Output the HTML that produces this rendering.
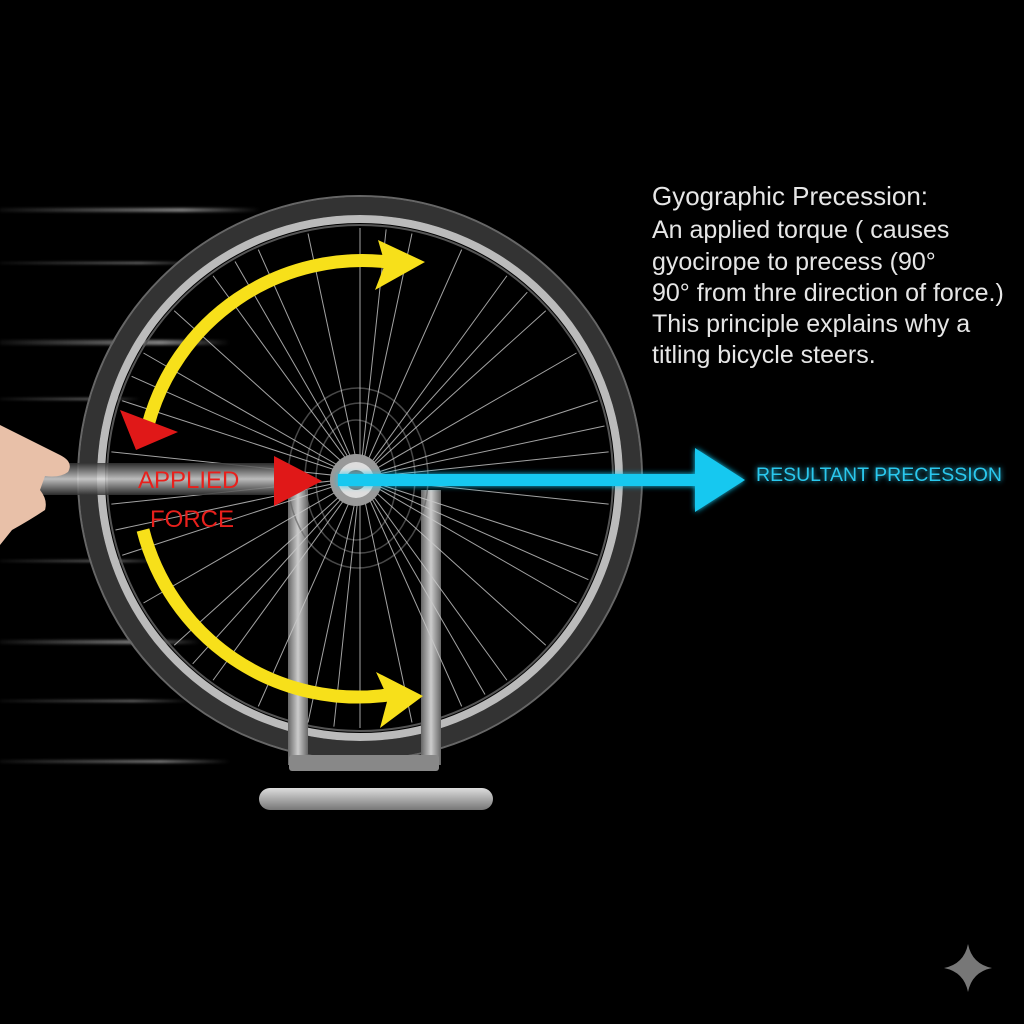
<!DOCTYPE html>
<html><head><meta charset="utf-8"><style>
html,body{margin:0;padding:0;background:#000;}
body{width:1024px;height:1024px;position:relative;overflow:hidden;font-family:"Liberation Sans",sans-serif;}
</style></head><body>
<svg width="1024" height="1024" viewBox="0 0 1024 1024" style="position:absolute;left:0;top:0">
<defs>
<linearGradient id="blur" x1="0" x2="1"><stop offset="0" stop-color="#fff" stop-opacity="0.05"/><stop offset="0.7" stop-color="#fff" stop-opacity="0.5"/><stop offset="1" stop-color="#fff" stop-opacity="0"/></linearGradient>
<linearGradient id="rod" x1="0" y1="0" x2="0" y2="1"><stop offset="0" stop-color="#333"/><stop offset="0.5" stop-color="#ddd"/><stop offset="1" stop-color="#333"/></linearGradient>
<linearGradient id="post" x1="0" x2="1"><stop offset="0" stop-color="#666"/><stop offset="0.5" stop-color="#ccc"/><stop offset="1" stop-color="#666"/></linearGradient>
<linearGradient id="base" x1="0" y1="0" x2="0" y2="1"><stop offset="0" stop-color="#ddd"/><stop offset="1" stop-color="#777"/></linearGradient>
<filter id="glow"><feGaussianBlur stdDeviation="3" result="b"/><feMerge><feMergeNode in="b"/><feMergeNode in="SourceGraphic"/></feMerge></filter>
<filter id="soft"><feGaussianBlur stdDeviation="1.2"/></filter>
</defs>
<g filter="url(#soft)">
<rect x="0" y="208" width="260" height="4" fill="url(#blur)"/>
<rect x="0" y="262" width="200" height="2" fill="url(#blur)"/>
<rect x="0" y="340" width="230" height="5" fill="url(#blur)"/>
<rect x="0" y="398" width="140" height="2" fill="url(#blur)"/>
<rect x="0" y="560" width="160" height="2" fill="url(#blur)"/>
<rect x="0" y="640" width="200" height="4" fill="url(#blur)"/>
<rect x="0" y="700" width="190" height="2" fill="url(#blur)"/>
<rect x="0" y="760" width="230" height="3" fill="url(#blur)"/>
</g>
<circle cx="360" cy="478" r="272" fill="none" stroke="#333" stroke-width="18"/>
<circle cx="360" cy="478" r="282" fill="none" stroke="#666" stroke-width="2"/>
<circle cx="360" cy="478" r="259" fill="none" stroke="#bbb" stroke-width="8"/>
<circle cx="360" cy="478" r="253" fill="none" stroke="#555" stroke-width="2"/>
<rect x="288" y="490" width="20" height="275" fill="url(#post)"/>
<rect x="421" y="490" width="20" height="275" fill="url(#post)"/>
<rect x="289" y="755" width="150" height="16" rx="3" fill="#888"/>
<rect x="259" y="788" width="234" height="22" rx="11" fill="url(#base)"/>
<g fill="none" stroke="#666" stroke-width="1.5" opacity="0.7">
<ellipse cx="358" cy="478" rx="70" ry="90"/>
<ellipse cx="360" cy="478" rx="55" ry="75"/>
<ellipse cx="356" cy="480" rx="40" ry="60"/>
</g>
<g stroke="#ccc" stroke-width="1" opacity="0.8">
<line x1="360" y1="228" x2="360" y2="728" transform="rotate(0 360 478)"/>
<line x1="360" y1="228" x2="360" y2="728" transform="rotate(12 360 478)"/>
<line x1="360" y1="228" x2="360" y2="728" transform="rotate(24 360 478)"/>
<line x1="360" y1="228" x2="360" y2="728" transform="rotate(36 360 478)"/>
<line x1="360" y1="228" x2="360" y2="728" transform="rotate(48 360 478)"/>
<line x1="360" y1="228" x2="360" y2="728" transform="rotate(60 360 478)"/>
<line x1="360" y1="228" x2="360" y2="728" transform="rotate(72 360 478)"/>
<line x1="360" y1="228" x2="360" y2="728" transform="rotate(84 360 478)"/>
<line x1="360" y1="228" x2="360" y2="728" transform="rotate(96 360 478)"/>
<line x1="360" y1="228" x2="360" y2="728" transform="rotate(108 360 478)"/>
<line x1="360" y1="228" x2="360" y2="728" transform="rotate(120 360 478)"/>
<line x1="360" y1="228" x2="360" y2="728" transform="rotate(132 360 478)"/>
<line x1="360" y1="228" x2="360" y2="728" transform="rotate(144 360 478)"/>
<line x1="360" y1="228" x2="360" y2="728" transform="rotate(156 360 478)"/>
<line x1="360" y1="228" x2="360" y2="728" transform="rotate(168 360 478)"/>
<line x1="360" y1="228" x2="360" y2="728" transform="rotate(6 360 478)"/>
<line x1="360" y1="228" x2="360" y2="728" transform="rotate(42 360 478)"/>
<line x1="360" y1="228" x2="360" y2="728" transform="rotate(78 360 478)"/>
<line x1="360" y1="228" x2="360" y2="728" transform="rotate(114 360 478)"/>
<line x1="360" y1="228" x2="360" y2="728" transform="rotate(150 360 478)"/>
</g>
<circle cx="356" cy="480" r="26" fill="#999"/>
<circle cx="356" cy="480" r="18" fill="#ddd"/>
<circle cx="356" cy="480" r="10" fill="#777"/>
<circle cx="356" cy="480" r="5" fill="#eee"/>
<rect x="38" y="463" width="250" height="32" fill="url(#rod)" opacity="0.85"/>
<path d="M0 425 Q30 440 60 455 Q74 462 68 472 Q60 478 45 476 L40 490 Q48 500 45 510 Q30 520 12 530 L0 545 Z" fill="#e8c0a8"/>
<g fill="none" stroke="#f7e01a" stroke-width="13">
<path d="M148 425 A222 222 0 0 1 388 262"/>
<path d="M143 530 A222 222 0 0 0 388 695"/>
</g>
<polygon points="378,240 425,262 375,290 385,264" fill="#f7e01a"/>
<polygon points="376,672 423,696 380,728 388,698" fill="#f7e01a"/>
<polygon points="120,410 178,432 136,450" fill="#e01818"/>
<polygon points="274,456 322,481 274,506" fill="#e01818"/>
<text x="138" y="488" font-size="24" fill="#e8201c">APPLIED</text>
<text x="150" y="527" font-size="24" fill="#e8201c">FORCE</text>
<g filter="url(#glow)">
<rect x="338" y="474" width="362" height="12" fill="#19c8f0"/>
<polygon points="695,448 745,480 695,512" fill="#19c8f0"/>
<text x="756" y="481" font-size="19.5" fill="#2ac8ee">RESULTANT PRECESSION</text>
</g>
<g font-size="25" fill="#e6e6e6">
<text x="652" y="205" font-size="26">Gyographic Precession:</text>
<text x="652" y="238">An applied torque ( causes</text>
<text x="652" y="270">gyocirope to precess (90°</text>
<text x="652" y="301">90° from thre direction of force.)</text>
<text x="652" y="332">This principle explains why a</text>
<text x="652" y="363">titling bicycle steers.</text>
</g>
<path d="M968 944 Q972 964 992 968 Q972 972 968 992 Q964 972 944 968 Q964 964 968 944 Z" fill="#777"/>
</svg>
</body></html>
